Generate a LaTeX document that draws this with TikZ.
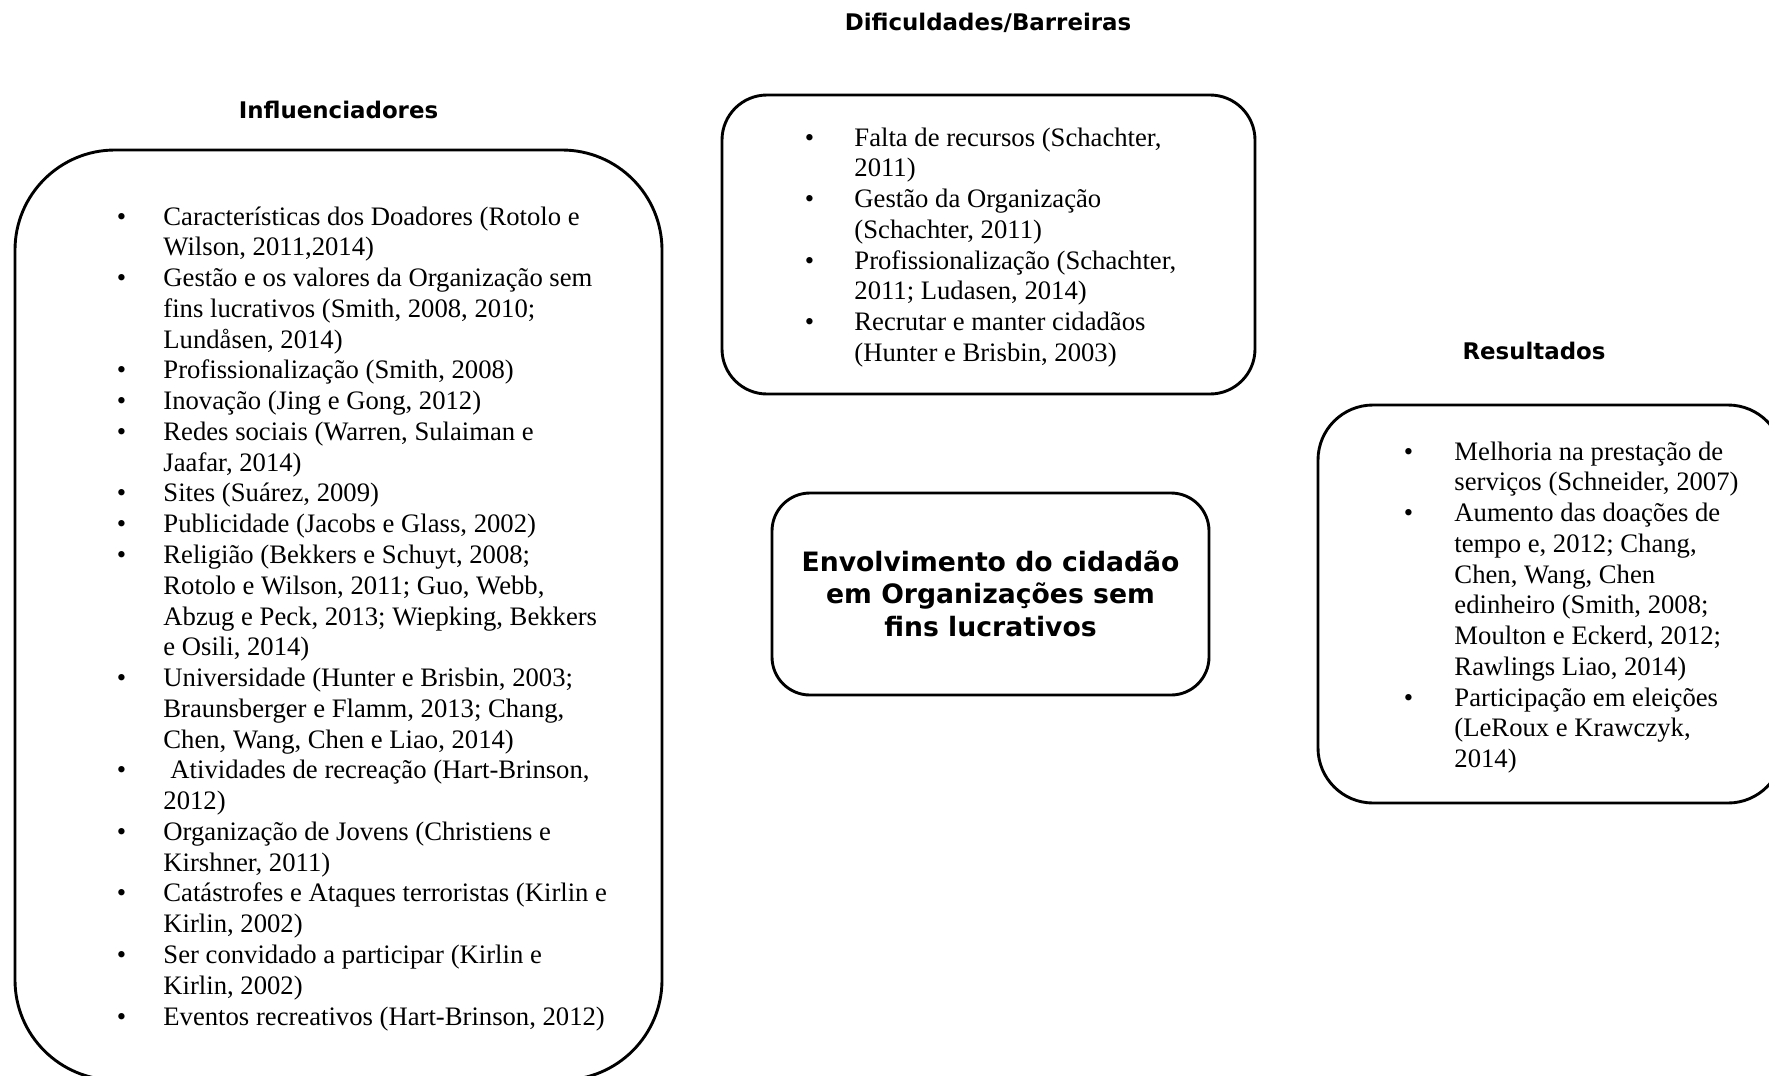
\documentclass[tikz,border=0pt]{standalone}
\usepackage{fontspec}
\setmainfont{Liberation Serif}
\newfontfamily\verdanalike{DejaVu Sans}

\newlength{\du}
\setlength{\du}{0.45pt}

\tikzset{
  roundbox/.style={draw, rectangle, line width=1.3pt, inner sep=0pt},
  itemline/.style={anchor=base west, inner sep=0pt, font=\fontsize{12}{13.85}\selectfont},
  headline/.style={anchor=base, inner sep=0pt, font=\verdanalike\bfseries\fontsize{10.3}{12}\selectfont},
  titleline/.style={anchor=base, inner sep=0pt, font=\verdanalike\bfseries\fontsize{12}{14.6}\selectfont},
}

\begin{document}
\begin{tikzpicture}
\pgftransformxscale{1.000000}
\pgftransformyscale{-1.000000}
\useasboundingbox (0\du,0\du) rectangle (1769\du,1075\du);
\clip (0\du,0\du) rectangle (1769\du,1075\du);
% boxes
\node[roundbox, rounded corners=100\du, minimum width=647\du, minimum height=930\du] (influbox) at (338.5\du,615\du) {};
\node[roundbox, rounded corners=45\du, minimum width=533\du, minimum height=299\du] (difbox) at (988.5\du,244.5\du) {};
\node[roundbox, rounded corners=38\du, minimum width=437\du, minimum height=202\du] (envbox) at (990.5\du,594\du) {};
\node[roundbox, rounded corners=55\du, minimum width=465\du, minimum height=398\du] (resbox) at (1550.5\du,604\du) {};
% headings
\node[headline] (difhead) at (988\du,30\du) {Dificuldades/Barreiras};
\node[headline] (influhead) at (338.5\du,118.5\du) {Influenciadores};
\node[headline] (reshead) at (1534\du,359\du) {Resultados};
% centre
\node[titleline] (env1) at (990.5\du,571\du) {Envolvimento do cidadão};
\node[titleline] (env2) at (990.5\du,603.5\du) {em Organizações sem};
\node[titleline] (env3) at (990.5\du,636\du) {fins lucrativos};
% influenciadores
\node[itemline] (influb1) at (116.5\du,225.0\du) {•};
\node[itemline] (influ1) at (163\du,225.0\du) {Características dos Doadores (Rotolo e};
\node[itemline] (influ2) at (163\du,255.8\du) {Wilson, 2011,2014)};
\node[itemline] (influb3) at (116.5\du,286.5\du) {•};
\node[itemline] (influ3) at (163\du,286.5\du) {Gestão e os valores da Organização sem};
\node[itemline] (influ4) at (163\du,317.3\du) {fins lucrativos (Smith, 2008, 2010;};
\node[itemline] (influ5) at (163\du,348.1\du) {Lundåsen, 2014)};
\node[itemline] (influb6) at (116.5\du,378.9\du) {•};
\node[itemline] (influ6) at (163\du,378.9\du) {Profissionalização (Smith, 2008)};
\node[itemline] (influb7) at (116.5\du,409.6\du) {•};
\node[itemline] (influ7) at (163\du,409.6\du) {Inovação (Jing e Gong, 2012)};
\node[itemline] (influb8) at (116.5\du,440.4\du) {•};
\node[itemline] (influ8) at (163\du,440.4\du) {Redes sociais (Warren, Sulaiman e};
\node[itemline] (influ9) at (163\du,471.2\du) {Jaafar, 2014)};
\node[itemline] (influb10) at (116.5\du,501.9\du) {•};
\node[itemline] (influ10) at (163\du,501.9\du) {Sites (Suárez, 2009)};
\node[itemline] (influb11) at (116.5\du,532.7\du) {•};
\node[itemline] (influ11) at (163\du,532.7\du) {Publicidade (Jacobs e Glass, 2002)};
\node[itemline] (influb12) at (116.5\du,563.5\du) {•};
\node[itemline] (influ12) at (163\du,563.5\du) {Religião (Bekkers e Schuyt, 2008;};
\node[itemline] (influ13) at (163\du,594.2\du) {Rotolo e Wilson, 2011; Guo, Webb,};
\node[itemline] (influ14) at (163\du,625.0\du) {Abzug e Peck, 2013; Wiepking, Bekkers};
\node[itemline] (influ15) at (163\du,655.8\du) {e Osili, 2014)};
\node[itemline] (influb16) at (116.5\du,686.6\du) {•};
\node[itemline] (influ16) at (163\du,686.6\du) {Universidade (Hunter e Brisbin, 2003;};
\node[itemline] (influ17) at (163\du,717.3\du) {Braunsberger e Flamm, 2013; Chang,};
\node[itemline] (influ18) at (163\du,748.1\du) {Chen, Wang, Chen e Liao, 2014)};
\node[itemline] (influb19) at (116.5\du,778.9\du) {•};
\node[itemline] (influ19) at (170\du,778.9\du) {Atividades de recreação (Hart-Brinson,};
\node[itemline] (influ20) at (163\du,809.6\du) {2012)};
\node[itemline] (influb21) at (116.5\du,840.4\du) {•};
\node[itemline] (influ21) at (163\du,840.4\du) {Organização de Jovens (Christiens e};
\node[itemline] (influ22) at (163\du,871.2\du) {Kirshner, 2011)};
\node[itemline] (influb23) at (116.5\du,901.9\du) {•};
\node[itemline] (influ23) at (163\du,901.9\du) {Catástrofes e Ataques terroristas (Kirlin e};
\node[itemline] (influ24) at (163\du,932.7\du) {Kirlin, 2002)};
\node[itemline] (influb25) at (116.5\du,963.5\du) {•};
\node[itemline] (influ25) at (163\du,963.5\du) {Ser convidado a participar (Kirlin e};
\node[itemline] (influ26) at (163\du,994.2\du) {Kirlin, 2002)};
\node[itemline] (influb27) at (116.5\du,1025.0\du) {•};
\node[itemline] (influ27) at (163\du,1025.0\du) {Eventos recreativos (Hart-Brinson, 2012)};
% dificuldades
\node[itemline] (difb1) at (804.5\du,146.0\du) {•};
\node[itemline] (dif1) at (854\du,146.0\du) {Falta de recursos (Schachter,};
\node[itemline] (dif2) at (854\du,176.8\du) {2011)};
\node[itemline] (difb3) at (804.5\du,207.5\du) {•};
\node[itemline] (dif3) at (854\du,207.5\du) {Gestão da Organização};
\node[itemline] (dif4) at (854\du,238.3\du) {(Schachter, 2011)};
\node[itemline] (difb5) at (804.5\du,269.1\du) {•};
\node[itemline] (dif5) at (854\du,269.1\du) {Profissionalização (Schachter,};
\node[itemline] (dif6) at (854\du,299.9\du) {2011; Ludasen, 2014)};
\node[itemline] (difb7) at (804.5\du,330.6\du) {•};
\node[itemline] (dif7) at (854\du,330.6\du) {Recrutar e manter cidadãos};
\node[itemline] (dif8) at (854\du,361.4\du) {(Hunter e Brisbin, 2003)};
% resultados
\node[itemline] (resb1) at (1403.5\du,460.0\du) {•};
\node[itemline] (res1) at (1454\du,460.0\du) {Melhoria na prestação de};
\node[itemline] (res2) at (1454\du,490.8\du) {serviços (Schneider, 2007)};
\node[itemline] (resb3) at (1403.5\du,521.5\du) {•};
\node[itemline] (res3) at (1454\du,521.5\du) {Aumento das doações de};
\node[itemline] (res4) at (1454\du,552.3\du) {tempo e, 2012; Chang,};
\node[itemline] (res5) at (1454\du,583.1\du) {Chen, Wang, Chen};
\node[itemline] (res6) at (1454\du,613.9\du) {edinheiro (Smith, 2008;};
\node[itemline] (res7) at (1454\du,644.6\du) {Moulton e Eckerd, 2012;};
\node[itemline] (res8) at (1454\du,675.4\du) {Rawlings Liao, 2014)};
\node[itemline] (resb9) at (1403.5\du,706.2\du) {•};
\node[itemline] (res9) at (1454\du,706.2\du) {Participação em eleições};
\node[itemline] (res10) at (1454\du,736.9\du) {(LeRoux e Krawczyk,};
\node[itemline] (res11) at (1454\du,767.7\du) {2014)};
\end{tikzpicture}
\end{document}
